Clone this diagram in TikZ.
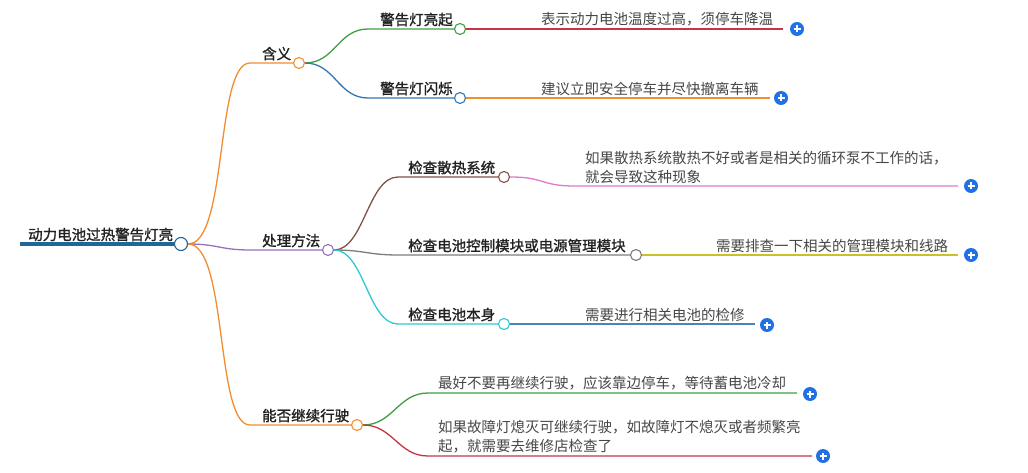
\documentclass[tikz,border=0pt]{standalone}
\usepackage{fontspec}
\newfontfamily\cjk{Noto Sans CJK SC}
\newfontfamily\cjkb[FakeBold=1.4]{Noto Sans CJK SC}
\usetikzlibrary{positioning}
\definecolor{rootblue}{RGB}{32,102,150}
\definecolor{corange}{RGB}{240,142,48}
\definecolor{cpurple}{RGB}{152,112,190}
\definecolor{cgreen}{RGB}{64,158,64}
\definecolor{cred}{RGB}{200,52,64}
\definecolor{cblue}{RGB}{52,118,178}
\definecolor{cbrown}{RGB}{128,82,72}
\definecolor{cpink}{RGB}{222,122,200}
\definecolor{cgray}{RGB}{125,125,125}
\definecolor{colive}{RGB}{204,192,40}
\definecolor{ccyan}{RGB}{44,200,212}
\definecolor{csteel}{RGB}{74,132,184}
\definecolor{plusblue}{RGB}{32,112,230}
\definecolor{txtdark}{RGB}{34,34,34}
\definecolor{txtgray}{RGB}{70,70,70}
\begin{document}
\begin{tikzpicture}[x=1pt,y=-1pt,
            every node/.style={inner sep=0pt,font=\cjk\fontsize{14.5}{19}\selectfont},
            knot/.style={circle,draw,fill=white,minimum size=11pt,line width=1.1pt},
            topic/.style={anchor=south west,text=txtdark,font=\cjkb\fontsize{14.5}{19}\selectfont},
            leaf/.style={anchor=south west,text=txtgray,align=left},
            link/.style={line width=1.3pt},
            addbtn/.style={circle,fill=plusblue,minimum size=14pt,
                path picture={\draw[white,line width=1.5pt]
                    ([xshift=-3.5pt]path picture bounding box.center) -- ([xshift=3.5pt]path picture bounding box.center)
                    ([yshift=-3.5pt]path picture bounding box.center) -- ([yshift=3.5pt]path picture bounding box.center);}}
        ]
            \useasboundingbox (0,0) rectangle (1028,473);
            % root
            \coordinate (r0) at (20,244);
            \node[knot,draw=rootblue,minimum size=13pt] (root) at (181,244) {};
            \node[topic] (rtxt) at (28,241.5) {动力电池过热警告灯亮};
            \draw[rootblue,line width=3.2pt] (r0) -- (root);
            % first level
            \coordinate (hys) at (250,63);
            \coordinate (cls) at (250,250);
            \coordinate (nfs) at (250,425);
            \node[knot,draw=corange] (hy) at (299,63) {};
            \node[knot,draw=cpurple] (cl) at (328,250) {};
            \node[knot,draw=corange] (nf) at (357,425) {};
            \node[topic] at (262,60.5) {含义};
            \node[topic] at (262,247.5) {处理方法};
            \node[topic] at (262,422.5) {能否继续行驶};
            \draw[link,corange] (root.east) .. controls +(40,0) and +(-35,0) .. (hys) -- (hy);
            \draw[link,cpurple] (root.east) .. controls +(30,0) and +(-30,0) .. (cls) -- (cl);
            \draw[link,corange] (root.east) .. controls +(40,0) and +(-35,0) .. (nfs) -- (nf);
            % meaning
            \coordinate (k1s) at (368,29);
            \coordinate (k2s) at (368,98);
            \node[knot,draw=cgreen] (k1) at (460,29) {};
            \node[knot,draw=cblue] (k2) at (460,98) {};
            \node[topic] at (380,26.5) {警告灯亮起};
            \node[topic] at (380,95.5) {警告灯闪烁};
            \draw[link,cgreen] (hy.east) .. controls +(30,0) and +(-30,0) .. (k1s) -- (k1);
            \draw[link,cblue] (hy.east) .. controls +(30,0) and +(-30,0) .. (k2s) -- (k2);
            \coordinate (k1e) at (783,29);
            \coordinate (k2e) at (770,98);
            \node[leaf] at (541,26.5) {表示动力电池温度过高，须停车降温};
            \node[leaf] at (541,95.5) {建议立即安全停车并尽快撤离车辆};
            \draw[link,cred] (k1) -- (k1e);
            \draw[link,corange] (k2) -- (k2e);
            \node[addbtn] (p1) at (797,29) {};
            \node[addbtn] (p2) at (781,98) {};
            % handling
            \coordinate (c1s) at (398,177);
            \coordinate (c2s) at (398,255);
            \coordinate (c3s) at (398,324);
            \node[knot,draw=cbrown] (c1) at (504,177) {};
            \node[knot,draw=cgray] (c2) at (636,255) {};
            \node[knot,draw=ccyan] (c3) at (504,324) {};
            \node[topic] at (408,174.5) {检查散热系统};
            \node[topic] at (408,252.5) {检查电池控制模块或电源管理模块};
            \node[topic] at (408,321.5) {检查电池本身};
            \draw[link,cbrown] (cl.east) .. controls +(30,0) and +(-30,0) .. (c1s) -- (c1);
            \draw[link,cgray] (cl.east) .. controls +(30,0) and +(-30,0) .. (c2s) -- (c2);
            \draw[link,ccyan] (cl.east) .. controls +(30,0) and +(-30,0) .. (c3s) -- (c3);
            \coordinate (d1s) at (575,186);
            \coordinate (d1e) at (958,186);
            \coordinate (d2e) at (958,255);
            \coordinate (d3e) at (755,324);
            \node[leaf] at (585,183.5) {如果散热系统散热不好或者是相关的循环泵不工作的话，\\就会导致这种现象};
            \node[leaf] at (716,252.5) {需要排查一下相关的管理模块和线路};
            \node[leaf] at (585,321.5) {需要进行相关电池的检修};
            \draw[link,cpink] (c1.east) .. controls +(35,0) and +(-35,0) .. (d1s) -- (d1e);
            \draw[link,colive] (c2) -- (d2e);
            \draw[link,csteel] (c3) -- (d3e);
            \node[addbtn] (p3) at (971,186) {};
            \node[addbtn] (p4) at (971,255) {};
            \node[addbtn] (p5) at (767,325) {};
            % keep driving
            \coordinate (n1s) at (428,393);
            \coordinate (n2s) at (428,456);
            \coordinate (n1e) at (797,393);
            \coordinate (n2e) at (812,456);
            \node[leaf] at (438,390.5) {最好不要再继续行驶，应该靠边停车，等待蓄电池冷却};
            \node[leaf] at (438,453.5) {如果故障灯熄灭可继续行驶，如故障灯不熄灭或者频繁亮\\起，就需要去维修店检查了};
            \draw[link,cgreen] (nf.east) .. controls +(30,0) and +(-30,0) .. (n1s) -- (n1e);
            \draw[link,cred] (nf.east) .. controls +(30,0) and +(-30,0) .. (n2s) -- (n2e);
            \node[addbtn] (p6) at (810,394) {};
            \node[addbtn] (p7) at (823,456) {};
        \end{tikzpicture}
\end{document}
